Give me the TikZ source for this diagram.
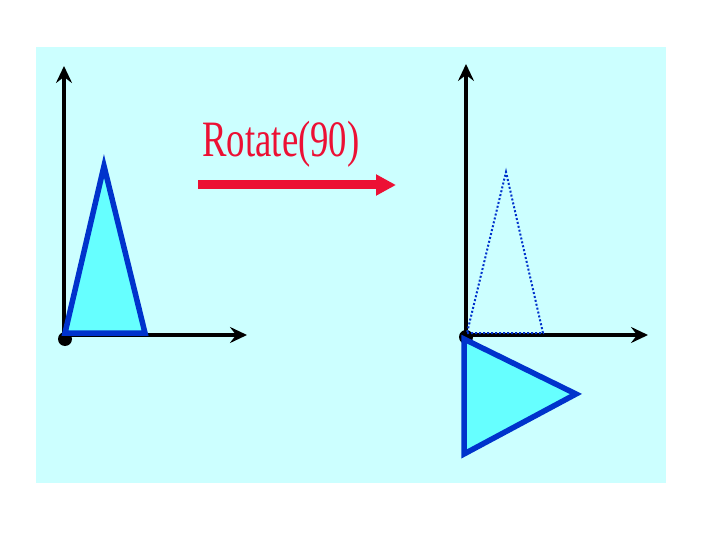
\documentclass[tikz,border=0pt]{standalone}
\usepackage{fontspec}
\setmainfont{Liberation Serif}
\usetikzlibrary{arrows.meta}
\definecolor{bgcyan}{RGB}{204,255,255}
\definecolor{trifill}{RGB}{102,255,255}
\definecolor{triblue}{RGB}{0,51,204}
\definecolor{arrred}{RGB}{236,16,52}
\tikzset{
  axis/.style={line width=3.6pt, -{Stealth[length=17pt,width=16pt,inset=6pt]}},
  tri/.style={draw=triblue, fill=trifill, line width=5.5pt, line join=miter},
  ghost/.style={draw=triblue, line width=2pt, dotted},
}
\begin{document}
\begin{tikzpicture}[x=1pt,y=-1pt]
\useasboundingbox (0,0) rectangle (720,540);
\fill[white] (0,0) rectangle (720,540);
\fill[bgcyan] (36,47) rectangle (666,483);
% left frame
\coordinate (lo) at (64,335);
\coordinate (ly) at (64,66);
\coordinate (lx) at (247,335);
\draw[axis] (lo) -- (ly);
\draw[axis] (lo) -- (lx);
\fill[black] (65,339) circle (7);
\draw[tri] (65,333) -- (145,333) -- (104,166) -- cycle;
% right frame
\coordinate (ro) at (466,335);
\coordinate (ry) at (466,64);
\coordinate (rx) at (648,335);
\draw[axis] (ro) -- (ry);
\draw[axis] (ro) -- (rx);
\fill[black] (466,337) circle (7);
\draw[ghost] (467,333) -- (543,333) -- (506,172) -- cycle;
\draw[tri] (464,339) -- (576,394) -- (464,454) -- cycle;
% label and arrow
\node[text=arrred, font=\fontsize{51}{51}\selectfont, xscale=0.72, anchor=base] (lbl) at (281,157) {Rotate(90)};
\coordinate (a1) at (198,185);
\coordinate (a2) at (396,185);
\draw[arrred, line width=9pt, -{Triangle[length=20pt,width=20pt]}] (a1) -- (a2);
\end{tikzpicture}
\end{document}
